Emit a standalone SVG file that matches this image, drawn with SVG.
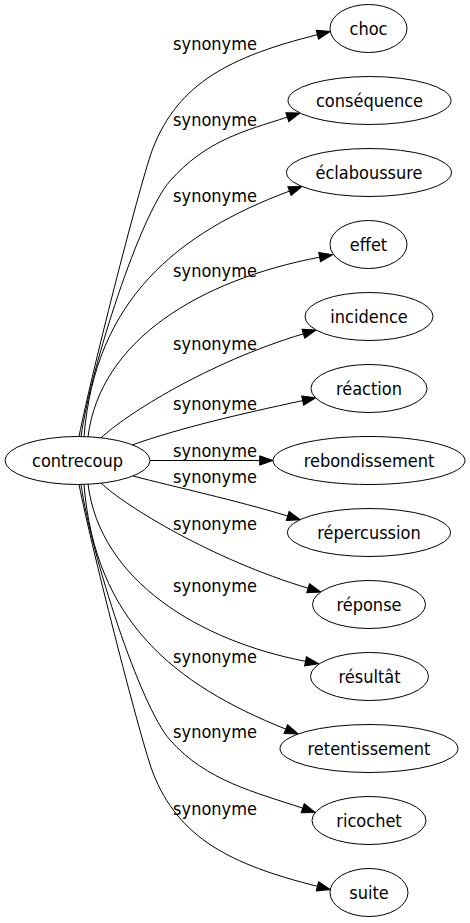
<svg xmlns="http://www.w3.org/2000/svg" width="470" height="923" viewBox="0 0 470 923">
<defs>
<style>
.node ellipse{fill:#fff;stroke:#000;stroke-width:1}
.node text{font-family:'DejaVu Sans Condensed','DejaVu Sans',sans-serif;font-stretch:condensed;font-size:18px;fill:#000;text-anchor:middle}
.edges path{fill:none;stroke:#000;stroke-width:1;marker-end:url(#arr)}
.edges text{font-family:'DejaVu Sans Condensed','DejaVu Sans',sans-serif;font-stretch:condensed;font-size:18px;fill:#000;text-anchor:middle}
</style>
<marker id="arr" markerUnits="userSpaceOnUse" markerWidth="14" markerHeight="10" refX="0" refY="4.7" orient="auto" overflow="visible">
<path d="M0,0 L13.3,4.7 L0,9.4 Z" fill="#000" stroke="#000" stroke-width="1"/>
</marker>
</defs>
<rect width="470" height="923" fill="#fff"/>
<g class="edges" id="edges">
<path d="M79,436.5 C93,366.5 142,176 153,148 C178.6,83 230,56.6 317.4,34.7"/>
<text x="215" y="50">synonyme</text>
<path d="M81,436.5 C91,366.5 140.2,214.7 170,181 C206.5,139.8 244.6,131.1 287.3,117.1"/>
<text x="215" y="126">synonyme</text>
<path d="M84,436.6 C95,300 177,233 289.5,191.1"/>
<text x="215" y="202">synonyme</text>
<path d="M88,437 C100,340 200,280 319.6,257.2"/>
<text x="215" y="277">synonyme</text>
<path d="M101,438 C125,415 207.6,362.5 303.4,333.8"/>
<text x="215" y="350">synonyme</text>
<path d="M132,445 C180,428 240,414 302.7,400.6"/>
<text x="215" y="410">synonyme</text>
<path d="M150,460.5 L259.7,460.5"/>
<text x="215" y="457">synonyme</text>
<path d="M133,476 C175,487 235,500 287.7,516"/>
<text x="215" y="483">synonyme</text>
<path d="M101,483 C125,506 212.3,559.5 308.1,588.2"/>
<text x="215" y="530">synonyme</text>
<path d="M88,484 C100,581 200,641 305.5,661.3"/>
<text x="215" y="592">synonyme</text>
<path d="M84,484.4 C95,621 174.4,684.6 285.8,729.1"/>
<text x="215" y="663">synonyme</text>
<path d="M81,484.5 C91,554.5 140.2,706.3 170,740 C206.5,781.2 255.4,792.2 302.7,808.2"/>
<text x="215" y="738">synonyme</text>
<path d="M79,484.5 C93,554.5 142,745 153,773 C178.6,838 230,864.4 317.4,886.3"/>
<text x="215" y="815">synonyme</text>
</g>
<g class="node" id="n-contrecoup"><ellipse cx="77.5" cy="460.5" rx="72.5" ry="24"/><text x="77.5" y="466.5">contrecoup</text></g>
<g class="node" id="n-choc"><ellipse cx="368.5" cy="28.5" rx="38.5" ry="24"/><text x="368.5" y="34.5">choc</text></g>
<g class="node" id="n-consequence"><ellipse cx="369.5" cy="100.5" rx="81.5" ry="24"/><text x="369.5" y="106.5">conséquence</text></g>
<g class="node" id="n-eclaboussure"><ellipse cx="369" cy="172.5" rx="82.5" ry="24"/><text x="369" y="178.5">éclaboussure</text></g>
<g class="node" id="n-effet"><ellipse cx="368.5" cy="244.5" rx="38.5" ry="24"/><text x="368.5" y="250.5">effet</text></g>
<g class="node" id="n-incidence"><ellipse cx="369" cy="316.5" rx="64" ry="24"/><text x="369" y="322.5">incidence</text></g>
<g class="node" id="n-reaction"><ellipse cx="369" cy="388.5" rx="58" ry="24"/><text x="369" y="394.5">réaction</text></g>
<g class="node" id="n-rebondissement"><ellipse cx="369" cy="460.5" rx="96" ry="24"/><text x="369" y="466.5">rebondissement</text></g>
<g class="node" id="n-repercussion"><ellipse cx="369" cy="532.5" rx="81.5" ry="24"/><text x="369" y="538.5">répercussion</text></g>
<g class="node" id="n-reponse"><ellipse cx="369" cy="604.5" rx="56.5" ry="24"/><text x="369" y="610.5">réponse</text></g>
<g class="node" id="n-resultat"><ellipse cx="369.5" cy="676.5" rx="59" ry="24"/><text x="369.5" y="682.5">résultât</text></g>
<g class="node" id="n-retentissement"><ellipse cx="369" cy="748.5" rx="89" ry="24"/><text x="369" y="754.5">retentissement</text></g>
<g class="node" id="n-ricochet"><ellipse cx="369" cy="820.5" rx="57" ry="24"/><text x="369" y="826.5">ricochet</text></g>
<g class="node" id="n-suite"><ellipse cx="369" cy="892.5" rx="39" ry="24"/><text x="369" y="898.5">suite</text></g>
</svg>
